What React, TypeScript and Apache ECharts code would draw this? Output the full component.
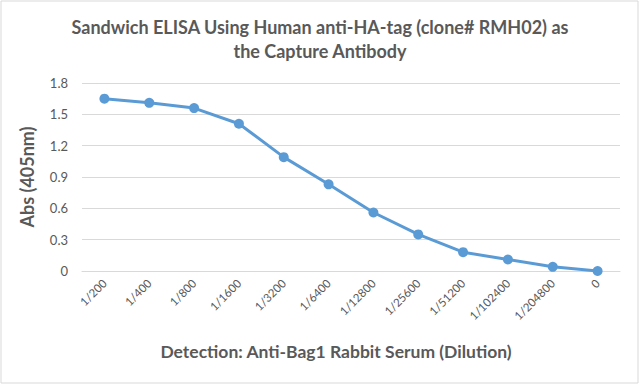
import React, { useEffect, useRef } from "react";
import * as echarts from "echarts";

const titleText = "Sandwich ELISA Using Human anti-HA-tag (clone# RMH02) as\nthe Capture Antibody";
const xAxisName = "Detection: Anti-Bag1 Rabbit Serum (Dilution)";
const yAxisName = "Abs (405nm)";
const categories = ["1/200", "1/400", "1/800", "1/1600", "1/3200", "1/6400", "1/12800", "1/25600", "1/51200", "1/102400", "1/204800", "0"];
const absValues = [1.65, 1.61, 1.56, 1.41, 1.09, 0.83, 0.56, 0.35, 0.18, 0.11, 0.04, 0.0];

const FONT = "Lato, 'Open Sans', sans-serif";
const GRAY = "#595959";

export default function App() {
  const ref = useRef<HTMLDivElement>(null);
  useEffect(() => {
    document.body.style.margin = "0";
    const chart = echarts.init(ref.current!, null, { renderer: "svg" });
    chart.setOption({
      animation: false,
      backgroundColor: "#ffffff",
      title: {
        text: titleText,
        left: "center",
        top: 10,
        textStyle: { fontFamily: FONT, fontSize: 18, fontWeight: "bold", color: GRAY, lineHeight: 24 },
      },
      graphic: [
        {
          type: "rect",
          shape: { x: 1, y: 1, width: 637, height: 382 },
          style: { fill: "none", stroke: "#d9d9d9", lineWidth: 1 },
          silent: true,
        },
        {
          type: "text",
          x: 336,
          y: 351,
          style: {
            text: xAxisName,
            textAlign: "center",
            textVerticalAlign: "middle",
            fontFamily: FONT,
            fontSize: 17.5,
            fontWeight: "bold",
            fill: GRAY,
          },
        },
      ],
      grid: { left: 82, right: 20, top: 83, bottom: 114 },
      xAxis: {
        type: "category",
        data: categories,
        boundaryGap: true,
        axisLine: { show: true, lineStyle: { color: "#d9d9d9" } },
        axisTick: { show: false },
        axisLabel: { rotate: 45, color: GRAY, fontFamily: FONT, fontSize: 11.5, margin: 10, interval: 0 },
      },
      yAxis: {
        type: "value",
        min: 0,
        max: 1.8,
        interval: 0.3,
        axisLine: { show: false },
        axisTick: { show: false },
        splitLine: { lineStyle: { color: "#d9d9d9" } },
        axisLabel: {
          color: GRAY,
          fontFamily: FONT,
          fontSize: 13,
          margin: 14,
          formatter: (v: number) => (v === 0 ? "0" : String(Math.round(v * 10) / 10)),
        },
        name: yAxisName,
        nameLocation: "middle",
        nameGap: 46,
        nameRotate: 90,
        nameTextStyle: { fontFamily: FONT, fontSize: 18, fontWeight: "bold", color: GRAY },
      },
      series: [
        {
          type: "line",
          data: absValues,
          symbol: "circle",
          symbolSize: 10,
          lineStyle: { color: "#5B9BD5", width: 3 },
          itemStyle: { color: "#5B9BD5" },
        },
      ],
    });
    return () => chart.dispose();
  }, []);
  return <div ref={ref} style={{ width: 640, height: 385 }} />;
}
